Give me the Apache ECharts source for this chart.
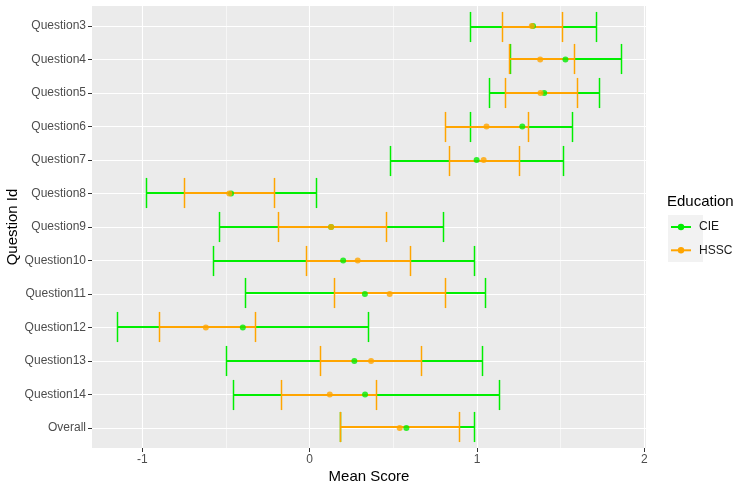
<!DOCTYPE html>
<html>
<head>
<meta charset="utf-8">
<script src="https://cdn.jsdelivr.net/npm/echarts@6/dist/echarts.min.js"></script>
<style>html,body{margin:0;padding:0;background:#fff}#c{width:739px;height:485px}</style>
</head>
<body>
<div id="c"></div>
<script>
var categories = ['Question3','Question4','Question5','Question6','Question7','Question8','Question9','Question10','Question11','Question12','Question13','Question14','Overall'];
var cieMean  = [1.335, 1.529, 1.402, 1.271, 0.998, -0.470, 0.128, 0.200, 0.330, -0.400, 0.267, 0.331, 0.578];
var cieLow   = [0.960, 1.195, 1.069, 0.960, 0.478, -0.981, -0.541, -0.579, -0.388, -1.151, -0.500, -0.460, 0.179];
var cieHigh  = [1.709, 1.860, 1.731, 1.569, 1.517, 0.038, 0.797, 0.980, 1.050, 0.351, 1.030, 1.129, 0.980];
var hsscMean = [1.328, 1.378, 1.380, 1.057, 1.040, -0.481, 0.128, 0.287, 0.478, -0.621, 0.367, 0.120, 0.538];
var hsscLow  = [1.151, 1.191, 1.169, 0.809, 0.830, -0.750, -0.191, -0.022, 0.148, -0.900, 0.060, -0.171, 0.183];
var hsscHigh = [1.510, 1.579, 1.601, 1.308, 1.249, -0.211, 0.458, 0.600, 0.809, -0.330, 0.667, 0.398, 0.894];
var xMajorTicks = [-1, 0, 1, 2];
var xMinorTicks = [-0.5, 0.5, 1.5];
var seriesNames = ['CIE', 'HSSC'];

var GREEN = '#00EE00', ORANGE = '#FFA500';
var FONT = 'Liberation Sans, Arial, sans-serif';
var yIdx = categories.map(function (c, i) { return i; });

function barData(lo, hi) { return lo.map(function (v, i) { return [v, hi[i], i]; }); }
function ptData(m) { return m.map(function (v, i) { return [v, i]; }); }
function renderBars(color) {
  return function (params, api) {
    var a = api.coord([api.value(0), api.value(2)]);
    var b = api.coord([api.value(1), api.value(2)]);
    var h = api.size([0, 0.9])[1] / 2;
    var y = 2 * Math.floor(a[1] / 2) + 1;
    var x1 = Math.round(a[0]) + 0.5, x2 = Math.round(b[0]) + 0.5;
    var st = { stroke: color, lineWidth: 1.5, fill: null };
    var stH = { stroke: color, lineWidth: 2, fill: null };
    return { type: 'group', children: [
      { type: 'line', shape: { x1: x1, y1: y, x2: x2, y2: y }, style: stH },
      { type: 'line', shape: { x1: x1, y1: y - h, x2: x1, y2: y + h }, style: st },
      { type: 'line', shape: { x1: x2, y1: y - h, x2: x2, y2: y + h }, style: st }
    ]};
  };
}

var chart = echarts.init(document.getElementById('c'), null, { renderer: 'canvas' });
var XMIN = -1.3016, XMAX = 2.0106;
chart.setOption({
  animation: false,
  backgroundColor: '#ffffff',
  textStyle: { fontFamily: FONT },
  title: { text: 'Education', left: 667, top: 194, padding: 0,
    textStyle: { fontSize: 15, fontWeight: 'normal', color: '#000', fontFamily: FONT } },
  graphic: [{ type: 'rect', left: 668, top: 215, shape: { width: 35, height: 47 }, style: { fill: '#F2F2F2' }, z: 0 }],
  legend: {
    data: seriesNames, orient: 'vertical', left: 670, top: 221, padding: 0,
    itemWidth: 20, itemHeight: 8, itemGap: 11.3,
    textStyle: { fontSize: 12, color: '#1A1A1A', fontFamily: FONT, padding: [0, 0, 0, 3] },
    selectedMode: false
  },
  grid: { left: 92, right: 93, top: 6, bottom: 37, show: true, backgroundColor: '#EBEBEB', borderWidth: 0,
    containLabel: false, outerBoundsMode: 'none' },
  xAxis: [{
    type: 'value', min: XMIN, max: XMAX,
    name: 'Mean Score', nameLocation: 'middle', nameGap: 21, nameMoveOverlap: false,
    nameTextStyle: { fontSize: 15, color: '#000', fontFamily: FONT },
    axisLine: { show: false, onZero: false },
    axisTick: { show: true, length: 4, customValues: xMajorTicks, lineStyle: { color: '#333', width: 1 } },
    axisLabel: { customValues: xMajorTicks, fontSize: 12, color: '#4D4D4D', margin: 6, fontFamily: FONT },
    splitLine: { show: true, lineStyle: { color: '#FFFFFF', width: 1.1 } }
  }, {
    type: 'value', min: XMIN, max: XMAX, position: 'top',
    axisLine: { show: false, onZero: false },
    axisTick: { show: false, customValues: xMinorTicks },
    axisLabel: { show: false, customValues: xMinorTicks },
    splitLine: { show: true, lineStyle: { color: '#FFFFFF', width: 0.55 } }
  }],
  yAxis: [{
    type: 'value', min: -0.6, max: 12.6, inverse: true,
    name: 'Question Id', nameLocation: 'middle', nameGap: 72, nameRotate: 90, nameMoveOverlap: false,
    nameTextStyle: { fontSize: 15, color: '#000', fontFamily: FONT },
    axisLine: { show: false, onZero: false },
    axisTick: { show: true, length: 4, customValues: yIdx, lineStyle: { color: '#333', width: 1 } },
    axisLabel: { customValues: yIdx, fontSize: 12, color: '#4D4D4D', margin: 6, fontFamily: FONT,
      formatter: function (v) { return categories[Math.round(v)]; } },
    splitLine: { show: true, lineStyle: { color: '#FFFFFF', width: 1.1 } }
  }],
  series: [
    { name: 'CIE', type: 'line', data: [], symbol: 'circle', itemStyle: { color: GREEN }, lineStyle: { color: GREEN, width: 1.5 } },
    { name: 'HSSC', type: 'line', data: [], symbol: 'circle', itemStyle: { color: ORANGE }, lineStyle: { color: ORANGE, width: 1.5 } },
    { name: 'CIE bars', type: 'custom', renderItem: renderBars(GREEN), encode: { x: [0, 1], y: 2 }, data: barData(cieLow, cieHigh), z: 2 },
    { name: 'HSSC bars', type: 'custom', renderItem: renderBars(ORANGE), encode: { x: [0, 1], y: 2 }, data: barData(hsscLow, hsscHigh), z: 3 },
    { name: 'CIE pts', type: 'scatter', symbol: 'circle', symbolSize: 6, itemStyle: { color: GREEN }, data: ptData(cieMean), z: 4 },
    { name: 'HSSC pts', type: 'scatter', symbol: 'circle', symbolSize: 6, itemStyle: { color: ORANGE }, data: ptData(hsscMean), z: 5 }
  ]
});
</script>
</body>
</html>
